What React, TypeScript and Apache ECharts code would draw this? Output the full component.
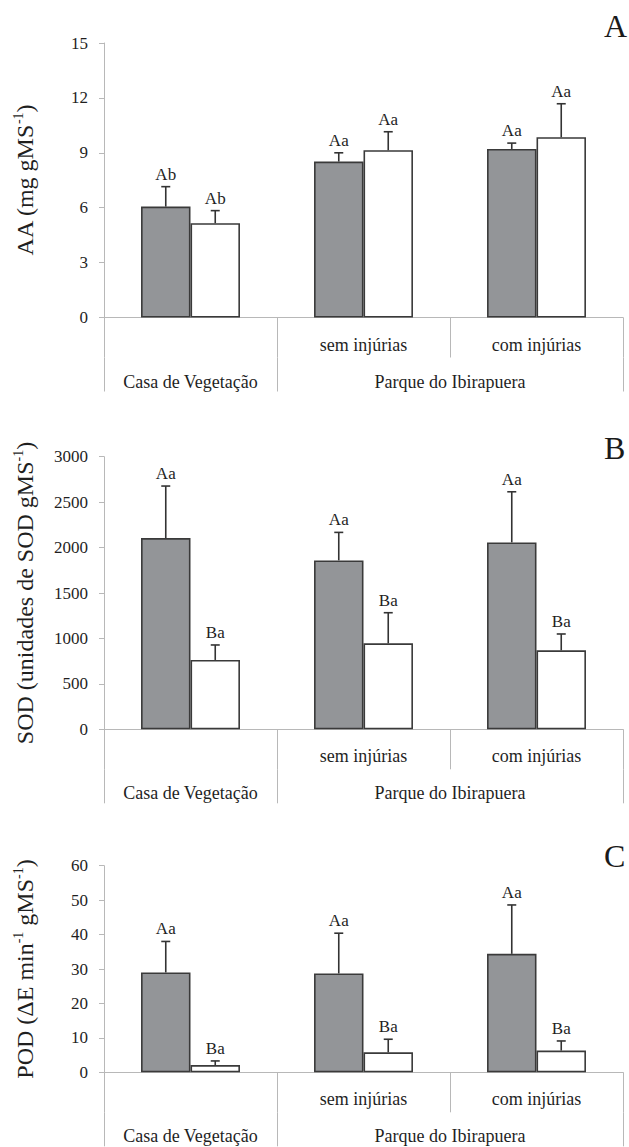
import React, { useEffect, useRef } from "react";
import * as echarts from "echarts";

const firstLevelLabels = ["", "sem injúrias", "com injúrias"];
const secondLevelLabels = ["Casa de Vegetação", "Parque do Ibirapuera"];
const secondLevelTickValues = [0, 1, 3];
const secondLevelLabelValues = [0.5, 2];

// Panel A — AA
const aaGray = [6.06, 8.52, 9.21];
const aaGrayErr = [1.09, 0.48, 0.32];
const aaWhite = [5.15, 9.14, 9.85];
const aaWhiteErr = [0.69, 1.01, 1.83];
const aaGrayLetters = ["Ab", "Aa", "Aa"];
const aaWhiteLetters = ["Ab", "Aa", "Aa"];

// Panel B — SOD
const sodGray = [2105, 1859, 2057];
const sodGrayErr = [572, 308, 557];
const sodWhite = [763, 946, 869];
const sodWhiteErr = [165, 337, 180];
const sodGrayLetters = ["Aa", "Aa", "Aa"];
const sodWhiteLetters = ["Ba", "Ba", "Ba"];

// Panel C — POD
const podGray = [29.0, 28.7, 34.4];
const podGrayErr = [9.0, 11.7, 14.2];
const podWhite = [2.1, 5.8, 6.3];
const podWhiteErr = [1.2, 3.8, 2.8];
const podGrayLetters = ["Aa", "Aa", "Aa"];
const podWhiteLetters = ["Ba", "Ba", "Ba"];

const yMax = [15, 3000, 60];
const yInterval = [3, 500, 10];
const panelLetters = ["A", "B", "C"];
const yTitles = [
  "{t|AA (mg gMS}{s|-1}{t|)}",
  "{t|SOD (unidades de SOD gMS}{s|-1}{t|)}",
  "{t|POD (ΔE min}{s|-1}{t| gMS}{s|-1}{t|)}",
];

const FONT = "Liberation Serif";
const TEXT = "#1f1f1f";
const AXIS = "#b8b8b8";
const BAR_FRAC = 0.286;

const grids = [
  { left: 104, top: 43, width: 519, height: 274.5 },
  { left: 104, top: 456.7, width: 519, height: 272.6 },
  { left: 104, top: 865.7, width: 519, height: 206.6 },
];
const letterTops = [10, 432, 840];

function errSeries(g: number, means: number[], errs: number[], letters: string[], sign: number) {
  return {
    type: "custom",
    xAxisIndex: g * 2,
    yAxisIndex: g,
    z: 5,
    silent: true,
    data: means.map((m, i) => [i, m, m + errs[i]]),
    renderItem: (params: any, api: any) => {
      const i = api.value(0);
      const base = api.coord([i, api.value(1)]);
      const top = api.coord([i, api.value(2)]);
      const band = api.size([1, 0])[0];
      const x = base[0] + (sign * band * BAR_FRAC) / 2;
      return {
        type: "group",
        children: [
          { type: "line", shape: { x1: x, y1: base[1], x2: x, y2: top[1] }, style: { stroke: "#333", lineWidth: 1.6 } },
          { type: "line", shape: { x1: x - 4.5, y1: top[1], x2: x + 4.5, y2: top[1] }, style: { stroke: "#333", lineWidth: 1.6 } },
          {
            type: "text",
            x: x,
            y: top[1] - 4,
            style: {
              text: letters[params.dataIndex],
              align: "center",
              verticalAlign: "bottom",
              fontSize: 17,
              fontFamily: FONT,
              fill: TEXT,
            },
          },
        ],
      };
    },
  };
}

export default function App() {
  const ref = useRef<HTMLDivElement>(null);
  useEffect(() => {
    document.body.style.margin = "0";
    const chart = echarts.init(ref.current!, null, { renderer: "svg" });
    const xAxes: any[] = [];
    const yAxes: any[] = [];
    grids.forEach((_, g) => {
      xAxes.push({
        type: "category",
        gridIndex: g,
        data: firstLevelLabels,
        axisLine: { show: true, lineStyle: { color: AXIS, width: 1 } },
        axisTick: { show: true, length: 40, alignWithLabel: false, lineStyle: { color: AXIS, width: 1 } },
        axisLabel: { margin: 18, fontSize: 18, fontFamily: FONT, color: TEXT },
        splitLine: { show: false },
      });
      xAxes.push({
        type: "value",
        gridIndex: g,
        position: "bottom",
        offset: 40,
        min: 0,
        max: 3,
        axisLine: { show: false },
        axisTick: {
          show: true,
          length: 34,
          customValues: secondLevelTickValues,
          lineStyle: { color: AXIS, width: 1 },
        },
        axisLabel: {
          show: true,
          margin: 15,
          fontSize: 18,
          fontFamily: FONT,
          color: TEXT,
          customValues: secondLevelLabelValues,
          formatter: (v: number) => (v < 1 ? secondLevelLabels[0] : secondLevelLabels[1]),
        },
        splitLine: { show: false },
      });
      yAxes.push({
        type: "value",
        gridIndex: g,
        min: 0,
        max: yMax[g],
        interval: yInterval[g],
        axisLine: { show: true, lineStyle: { color: AXIS, width: 1 } },
        axisTick: { show: true, length: 5, lineStyle: { color: AXIS, width: 1 } },
        axisLabel: {
          margin: 16,
          fontSize: 17,
          fontFamily: FONT,
          color: TEXT,
          formatter: (v: number) => String(v),
        },
        splitLine: { show: false },
        name: yTitles[g],
        nameLocation: "middle",
        nameRotate: 90,
        nameGap: 65,
        nameTextStyle: {
          color: TEXT,
          fontFamily: FONT,
          rich: {
            t: { fontSize: 24, fontFamily: FONT, color: TEXT, lineHeight: 28 },
            s: { fontSize: 14, fontFamily: FONT, color: TEXT, verticalAlign: "top", lineHeight: 28, padding: [0, 0, 10, 0] },
          },
        },
      });
    });

    const grayData = [aaGray, sodGray, podGray];
    const whiteData = [aaWhite, sodWhite, podWhite];
    const grayErr = [aaGrayErr, sodGrayErr, podGrayErr];
    const whiteErr = [aaWhiteErr, sodWhiteErr, podWhiteErr];
    const grayLetters = [aaGrayLetters, sodGrayLetters, podGrayLetters];
    const whiteLetters = [aaWhiteLetters, sodWhiteLetters, podWhiteLetters];

    const series: any[] = [];
    grids.forEach((_, g) => {
      series.push({
        type: "bar",
        xAxisIndex: g * 2,
        yAxisIndex: g,
        data: grayData[g],
        barWidth: (BAR_FRAC * 100).toFixed(1) + "%",
        barGap: "0%",
        itemStyle: { color: "#939598", borderColor: "#3a3a3a", borderWidth: 1.6 },
        silent: true,
      });
      series.push({
        type: "bar",
        xAxisIndex: g * 2,
        yAxisIndex: g,
        data: whiteData[g],
        barWidth: (BAR_FRAC * 100).toFixed(1) + "%",
        barGap: "0%",
        itemStyle: { color: "#ffffff", borderColor: "#3a3a3a", borderWidth: 1.6 },
        silent: true,
      });
      series.push(errSeries(g, grayData[g], grayErr[g], grayLetters[g], -1));
      series.push(errSeries(g, whiteData[g], whiteErr[g], whiteLetters[g], 1));
    });

    chart.setOption({
      animation: false,
      backgroundColor: "#ffffff",
      textStyle: { fontFamily: FONT },
      title: panelLetters.map((t, i) => ({
        text: t,
        left: 604,
        top: letterTops[i],
        padding: 0,
        textStyle: { fontSize: 32, fontWeight: "normal", fontFamily: FONT, color: "#1a1a1a" },
      })),
      grid: grids.map((g) => ({ ...g, containLabel: false })),
      xAxis: xAxes,
      yAxis: yAxes,
      series,
    });
    return () => chart.dispose();
  }, []);
  return <div ref={ref} style={{ width: 629, height: 1147 }} />;
}
